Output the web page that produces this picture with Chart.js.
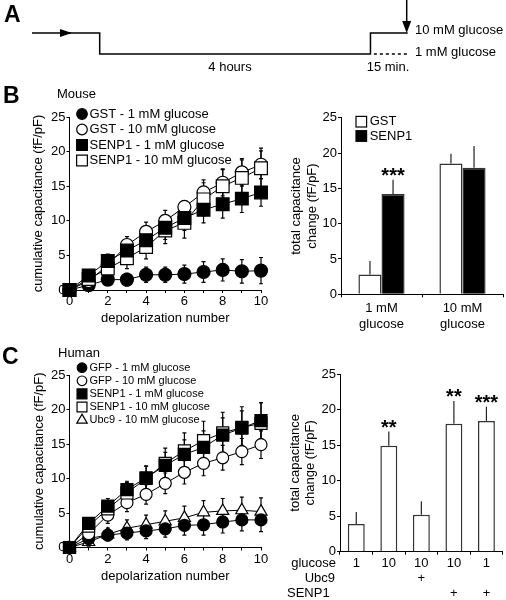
<!DOCTYPE html>
<html>
<head>
<meta charset="utf-8">
<script src="https://cdn.jsdelivr.net/npm/chart.js@4.4.1/dist/chart.umd.min.js"></script>
<style>
  body { margin: 0; background: #fff; }
  #fig { position: relative; width: 506px; height: 600px; background: #fff; }
  .box { position: absolute; }
</style>
</head>
<body>
<div id="fig">
  <div class="box" style="left:0;top:0;width:506px;height:80px"><canvas id="protocol"></canvas></div>
  <div class="box" style="left:0;top:80px;width:278px;height:250px"><canvas id="mouseLine"></canvas></div>
  <div class="box" style="left:278px;top:80px;width:228px;height:260px"><canvas id="mouseBar"></canvas></div>
  <div class="box" style="left:0;top:330px;width:278px;height:270px"><canvas id="humanLine"></canvas></div>
  <div class="box" style="left:278px;top:330px;width:228px;height:270px"><canvas id="humanBar"></canvas></div>
</div>
<script>
// ---- panel A : protocol (glucose level against time, schematic units)
const protoTime = [0, 1, 1, 5, 5, 5.55];
const protoGlucose = [10, 10, 1, 1, 10, 10];
const protoAltTime = [5.05, 5.55];
const protoAltGlucose = [1, 1];

// ---- panel B : mouse
const depolNumber = [0, 1, 2, 3, 4, 5, 6, 7, 8, 9, 10];
const gst1 = [0, 0.7, 1.5, 1.5, 2.2, 2.2, 2.3, 2.6, 2.9, 2.7, 2.8];
const gst1Err = [0, 0.4, 0.8, 0.9, 1.1, 1.1, 1.3, 1.5, 1.6, 1.7, 1.9];
const gst10 = [0, 1.3, 3.6, 6.5, 8.4, 10.0, 12.0, 14.1, 15.5, 17.0, 18.1];
const gst10Err = [0, 0.5, 0.9, 1.2, 1.4, 1.5, 0.9, 1.8, 1.9, 2.0, 2.0];
const senp1Mouse1 = [0, 2.1, 4.2, 5.7, 7.2, 9.0, 10.4, 11.6, 12.4, 13.2, 14.1];
const senp1Mouse1Err = [0, 0.6, 1.0, 1.3, 1.5, 1.7, 1.8, 1.9, 2.0, 2.0, 2.0];
const senp1Mouse10 = [0, 1.6, 3.1, 4.6, 6.2, 8.6, 9.7, 13.1, 15.0, 16.2, 17.6];
const senp1Mouse10Err = [0, 0.5, 1.0, 1.5, 1.7, 1.9, 2.2, 2.4, 2.5, 2.6, 2.9];

const mouseBarLabels = [['1 mM', 'glucose'], ['10 mM', 'glucose']];
const mouseGst = [2.8, 18.5];
const mouseGstErr = [1.9, 1.4];
const mouseSenp1 = [14.2, 17.9];
const mouseSenp1Err = [2.0, 3.1];
const mouseSenp1Stars = ['***', ''];

// ---- panel C : human
const gfp1 = [0, 1.3, 1.8, 2.1, 2.4, 2.7, 3.2, 3.3, 3.7, 4.0, 4.0];
const gfp1Err = [0, 0.5, 0.8, 1.0, 1.1, 1.2, 1.4, 1.5, 1.6, 1.6, 1.7];
const gfp10 = [0, 2.0, 4.7, 6.5, 7.7, 9.3, 10.9, 12.2, 13.0, 13.9, 14.9];
const gfp10Err = [0, 0.8, 1.2, 1.3, 1.4, 1.5, 1.7, 1.8, 1.8, 1.9, 2.0];
const senp1Human1 = [0, 3.5, 6.0, 8.4, 10.1, 11.9, 13.5, 14.5, 16.3, 17.3, 18.4];
const senp1Human1Err = [0, 0.8, 1.1, 1.2, 1.7, 1.9, 2.1, 2.4, 2.5, 2.5, 2.6];
const senp1Human10 = [0, 3.1, 5.6, 7.9, 10.0, 12.2, 14.0, 15.5, 16.6, 17.4, 18.0];
const senp1Human10Err = [0, 0.8, 1.2, 1.5, 1.8, 2.2, 2.6, 2.8, 3.0, 3.0, 3.0];
const ubc9Human10 = [0, 0.8, 1.9, 2.8, 3.3, 3.8, 4.3, 5.1, 5.3, 5.4, 5.2];
const ubc9Human10Err = [0, 0.6, 0.9, 1.2, 1.4, 1.5, 1.7, 1.7, 1.8, 1.9, 2.0];

const humanGlucose = ['1', '10', '10', '10', '1'];
const humanUbc9 = ['', '', '+', '', ''];
const humanSenp1 = ['', '', '', '+', '+'];
const humanTotal = [3.9, 14.9, 5.2, 18.0, 18.4];
const humanTotalErr = [1.7, 2.0, 1.9, 3.2, 2.0];
const humanStars = ['', '**', '', '**', '***'];

const yTicks = [0, 5, 10, 15, 20, 25];

const FONT = '"Liberation Sans", Arial, Helvetica, sans-serif';
Chart.defaults.font.family = FONT;
Chart.defaults.font.size = 13;
Chart.defaults.color = '#000';
Chart.defaults.animation = false;
Chart.defaults.plugins.legend.display = false;
Chart.defaults.plugins.tooltip.enabled = false;

function txt(ctx, s, x, y, size, align, bold) {
    ctx.font = (bold ? 'bold ' : '') + size + 'px ' + FONT;
    ctx.textAlign = align || 'left';
    ctx.textBaseline = 'middle';
    ctx.fillStyle = '#000';
    ctx.fillText(s, x, y);
}

function marker(ctx, style, fill, radius, x, y) {
    ctx.save();
    ctx.fillStyle = fill;
    ctx.strokeStyle = '#000';
    ctx.lineWidth = 1.2;
    Chart.helpers.drawPoint(ctx, {pointStyle: style, radius: radius, borderWidth: 1.2, rotation: 0}, x, y);
    ctx.restore();
}

// error bars + stars, read from dataset.errors / dataset.stars
const errorBars = {
    id: 'errorBars',
    beforeDatasetsDraw(chart, args, opts) {
        const ctx = chart.ctx;
        const ys = chart.scales.y;
        ctx.save();
        ctx.strokeStyle = opts.color || '#000';
        ctx.lineWidth = 1.2;
        chart.data.datasets.forEach((ds, i) => {
            if (!ds.errors) return;
            chart.getDatasetMeta(i).data.forEach((el, j) => {
                const e = ds.errors[j];
                if (!e) return;
                const v = typeof ds.data[j] === 'object' ? ds.data[j].y : ds.data[j];
                const top = ys.getPixelForValue(v + e);
                const bot = opts.upOnly ? el.y : ys.getPixelForValue(v - e);
                ctx.beginPath();
                ctx.moveTo(el.x, top);
                ctx.lineTo(el.x, bot);
                if (opts.cap) {
                    ctx.moveTo(el.x - opts.cap, top); ctx.lineTo(el.x + opts.cap, top);
                    if (!opts.upOnly) { ctx.moveTo(el.x - opts.cap, bot); ctx.lineTo(el.x + opts.cap, bot); }
                }
                ctx.stroke();
            });
        });
        ctx.restore();
    },
    afterDatasetsDraw(chart) {
        const ctx = chart.ctx;
        const ys = chart.scales.y;
        chart.data.datasets.forEach((ds, i) => {
            if (!ds.stars) return;
            chart.getDatasetMeta(i).data.forEach((el, j) => {
                if (!ds.stars[j]) return;
                const top = ys.getPixelForValue(ds.data[j] + (ds.errors ? ds.errors[j] : 0));
                ctx.font = 'bold 20px ' + FONT;
                ctx.textAlign = 'center';
                ctx.textBaseline = 'alphabetic';
                ctx.fillStyle = '#000';
                ctx.fillText(ds.stars[j], el.x, top + 2);
            });
        });
    }
};

function axisY(title, titlePad, width) {
    return {
        min: 0, max: 25,
        afterBuildTicks: s => { s.ticks = yTicks.map(v => ({value: v})); },
        afterFit: s => { s.width = width; },
        ticks: {padding: 1, font: {size: 13}},
        grid: {display: true, drawOnChartArea: false, drawTicks: true, tickLength: 3, color: '#000'},
        border: {display: true, color: '#000', width: 1},
        title: {display: true, text: title, padding: {top: titlePad, bottom: 0}, font: {size: 13}}
    };
}

function axisDepol(height, titlePad) {
    return {
        type: 'linear', min: 0, max: 10,
        afterFit: s => { s.height = height; },
        ticks: {stepSize: 1, autoSkip: false, maxRotation: 0, padding: 1, font: {size: 13},
                callback: v => (v % 2 === 0 ? v : '')},
        grid: {display: true, drawOnChartArea: false, drawTicks: true, tickLength: 3, color: '#000'},
        border: {display: true, color: '#000', width: 1},
        title: {display: true, text: 'depolarization number', padding: {top: 0, bottom: titlePad}, font: {size: 13}}
    };
}

function serie(label, vals, err, style, fill, radius, order) {
    return {
        label: label,
        data: depolNumber.map((x, i) => ({x: x, y: vals[i]})),
        errors: err,
        pointStyle: style,
        pointRadius: radius,
        pointBackgroundColor: fill,
        pointBorderColor: '#000',
        pointBorderWidth: 1.2,
        borderColor: '#000',
        borderWidth: 1,
        tension: 0,
        order: order,
        clip: false
    };
}

// ---------- A
new Chart(document.getElementById('protocol'), {
    type: 'line',
    data: {
        datasets: [
            {data: protoTime.map((t, i) => ({x: t, y: protoGlucose[i]})), borderColor: '#000', borderWidth: 1.5, pointRadius: 0, clip: false},
            {data: protoAltTime.map((t, i) => ({x: t, y: protoAltGlucose[i]})), borderColor: '#000', borderWidth: 1.5, borderDash: [3, 3], pointRadius: 0, clip: false}
        ]
    },
    options: {
        responsive: true, maintainAspectRatio: false,
        layout: {padding: {left: 32, top: 33, right: 98.3, bottom: 26}},
        scales: {
            x: {type: 'linear', min: 0, max: 5.55, display: false},
            y: {min: 1, max: 10, display: false}
        }
    },
    plugins: [{
        id: 'protoDecor',
        afterDraw(chart) {
            const ctx = chart.ctx, xs = chart.scales.x, ys = chart.scales.y;
            const hi = ys.getPixelForValue(10);
            ctx.save();
            ctx.fillStyle = '#000'; ctx.strokeStyle = '#000'; ctx.lineWidth = 1.5;
            // arrow on the incoming line
            const ax = xs.getPixelForValue(0.59);
            ctx.beginPath(); ctx.moveTo(ax, hi); ctx.lineTo(ax - 12, hi - 4); ctx.lineTo(ax - 12, hi + 4); ctx.closePath(); ctx.fill();
            // stimulation arrow
            const dx = xs.getPixelForValue(5.55) - 1;
            ctx.beginPath(); ctx.moveTo(dx, 0); ctx.lineTo(dx, hi - 8); ctx.stroke();
            ctx.beginPath(); ctx.moveTo(dx, hi); ctx.lineTo(dx - 4.5, hi - 12); ctx.lineTo(dx + 4.5, hi - 12); ctx.closePath(); ctx.fill();
            ctx.restore();
            txt(ctx, 'A', 4, 16, 23, 'left', true);
            txt(ctx, '10 mM glucose', 415, 30, 13);
            txt(ctx, '1 mM glucose', 415, 52, 13);
            txt(ctx, '4 hours', 230, 67, 13, 'center');
            txt(ctx, '15 min.', 388, 67, 13, 'center');
        }
    }]
});

// ---------- B left
new Chart(document.getElementById('mouseLine'), {
    type: 'line',
    data: {
        datasets: [
            serie('SENP1 - 1 mM glucose', senp1Mouse1, senp1Mouse1Err, 'rect', '#000', 9, 0),
            serie('SENP1 - 10 mM glucose', senp1Mouse10, senp1Mouse10Err, 'rect', '#fff', 9, 1),
            serie('GST - 10 mM glucose', gst10, gst10Err, 'circle', '#fff', 6.5, 2),
            serie('GST - 1 mM glucose', gst1, gst1Err, 'circle', '#000', 6.5, 3)
        ]
    },
    options: {
        responsive: true, maintainAspectRatio: false,
        layout: {padding: {left: 0, top: 37, right: 17, bottom: 0}},
        scales: {
            x: axisDepol(40, 4),
            y: axisY('cumulative capacitance (fF/pF)', 31, 69.5)
        },
        plugins: {errorBars: {cap: 2}}
    },
    plugins: [errorBars, {
        id: 'mouseDecor',
        afterDraw(chart) {
            const ctx = chart.ctx;
            txt(ctx, 'B', 3, 17, 23, 'left', true);
            txt(ctx, 'Mouse', 57, 14, 13);
            const rows = [['GST - 1 mM glucose', 'circle', '#000', 5.3],
                          ['GST - 10 mM glucose', 'circle', '#fff', 5.3],
                          ['SENP1 - 1 mM glucose', 'rect', '#000', 7.6],
                          ['SENP1 - 10 mM glucose', 'rect', '#fff', 7.6]];
            rows.forEach((r, i) => {
                const y = 34 + i * 15.5;
                marker(ctx, r[1], r[2], r[3], 82, y);
                txt(ctx, r[0], 89.5, y, 13);
            });
        }
    }]
});

// ---------- B right
new Chart(document.getElementById('mouseBar'), {
    type: 'bar',
    data: {
        labels: mouseBarLabels,
        datasets: [
            {label: 'GST', data: mouseGst, errors: mouseGstErr, backgroundColor: '#fff', borderColor: '#333', borderWidth: 1.5,
             categoryPercentage: 0.57, barPercentage: 1.0},
            {label: 'SENP1', data: mouseSenp1, errors: mouseSenp1Err, stars: mouseSenp1Stars, backgroundColor: '#000', borderColor: '#333', borderWidth: 1.5,
             categoryPercentage: 0.57, barPercentage: 1.0}
        ]
    },
    options: {
        responsive: true, maintainAspectRatio: false,
        layout: {padding: {left: 0, top: 37.7, right: 3, bottom: 0}},
        scales: {
            x: {
                afterFit: s => { s.height = 45.7; },
                ticks: {padding: 2.6, maxRotation: 0, autoSkip: false, font: {size: 13, lineHeight: 1.25}},
                grid: {display: true, drawOnChartArea: false, drawTicks: true, tickLength: 3, color: '#000'},
                border: {display: true, color: '#000', width: 1}
            },
            y: axisY(['total capacitance', 'change (fF/pF)'], 10.9, 63)
        },
        plugins: {errorBars: {upOnly: true, color: '#222'}}
    },
    plugins: [errorBars, {
        id: 'mouseBarLegend',
        afterDraw(chart) {
            const ctx = chart.ctx;
            [['GST', '#fff'], ['SENP1', '#000']].forEach((r, i) => {
                const y = 41.7 + i * 14.3;
                ctx.save();
                ctx.fillStyle = r[1]; ctx.strokeStyle = '#000'; ctx.lineWidth = 1.2;
                ctx.fillRect(78, y - 5.3, 10.6, 10.6); ctx.strokeRect(78, y - 5.3, 10.6, 10.6);
                ctx.restore();
                txt(ctx, r[0], 91.7, y, 13);
            });
        }
    }]
});

// ---------- C left
new Chart(document.getElementById('humanLine'), {
    type: 'line',
    data: {
        datasets: [
            serie('SENP1 - 1 mM glucose', senp1Human1, senp1Human1Err, 'rect', '#000', 8.5, 0),
            serie('SENP1 - 10 mM glucose', senp1Human10, senp1Human10Err, 'rect', '#fff', 8.5, 1),
            serie('GFP - 10 mM glucose', gfp10, gfp10Err, 'circle', '#fff', 6, 2),
            serie('GFP - 1 mM glucose', gfp1, gfp1Err, 'circle', '#000', 6, 3),
            serie('Ubc9 - 10 mM glucose', ubc9Human10, ubc9Human10Err, 'triangle', '#fff', 7, 4)
        ]
    },
    options: {
        responsive: true, maintainAspectRatio: false,
        layout: {padding: {left: 0, top: 45, right: 17, bottom: 0}},
        scales: {
            x: axisDepol(52.5, 16),
            y: axisY('cumulative capacitance (fF/pF)', 32, 69.5)
        },
        plugins: {errorBars: {cap: 2}}
    },
    plugins: [errorBars, {
        id: 'humanDecor',
        afterDraw(chart) {
            const ctx = chart.ctx;
            txt(ctx, 'C', 2, 28, 23, 'left', true);
            txt(ctx, 'Human', 58, 23.3, 13);
            const rows = [['GFP - 1 mM glucose', 'circle', '#000', 4.8],
                          ['GFP - 10 mM glucose', 'circle', '#fff', 4.8],
                          ['SENP1 - 1 mM glucose', 'rect', '#000', 7],
                          ['SENP1 - 10 mM glucose', 'rect', '#fff', 7],
                          ['Ubc9 - 10 mM glucose', 'triangle', '#fff', 6]];
            rows.forEach((r, i) => {
                const y = 37.7 + i * 13.1;
                marker(ctx, r[1], r[2], r[3], 82, y);
                txt(ctx, r[0], 89.5, y, 11);
            });
        }
    }]
});

// ---------- C right
new Chart(document.getElementById('humanBar'), {
    type: 'bar',
    data: {
        labels: humanGlucose.map((g, i) => [g, humanUbc9[i], humanSenp1[i]]),
        datasets: [
            {data: humanTotal, errors: humanTotalErr, stars: humanStars, backgroundColor: '#fff', borderColor: '#333', borderWidth: 1.5,
             categoryPercentage: 0.52, barPercentage: 1.0}
        ]
    },
    options: {
        responsive: true, maintainAspectRatio: false,
        layout: {padding: {left: 0, top: 44, right: 3.3, bottom: 0}},
        scales: {
            x: {
                afterFit: s => { s.height = 48.3; },
                ticks: {padding: 1, maxRotation: 0, autoSkip: false, font: {size: 13, lineHeight: 15 / 13}},
                grid: {display: true, drawOnChartArea: false, drawTicks: true, tickLength: 3, color: '#000'},
                border: {display: true, color: '#000', width: 1}
            },
            y: axisY(['total capacitance', 'change (fF/pF)'], 9.2, 62)
        },
        plugins: {errorBars: {upOnly: true, color: '#222'}}
    },
    plugins: [errorBars, {
        id: 'humanBarRows',
        afterDraw(chart) {
            const ctx = chart.ctx;
            txt(ctx, 'glucose', 58, 233.3, 13, 'right');
            txt(ctx, 'Ubc9', 57, 248.3, 13, 'right');
            txt(ctx, 'SENP1', 9, 263.3, 13, 'left');
        }
    }]
});
</script>
</body>
</html>
